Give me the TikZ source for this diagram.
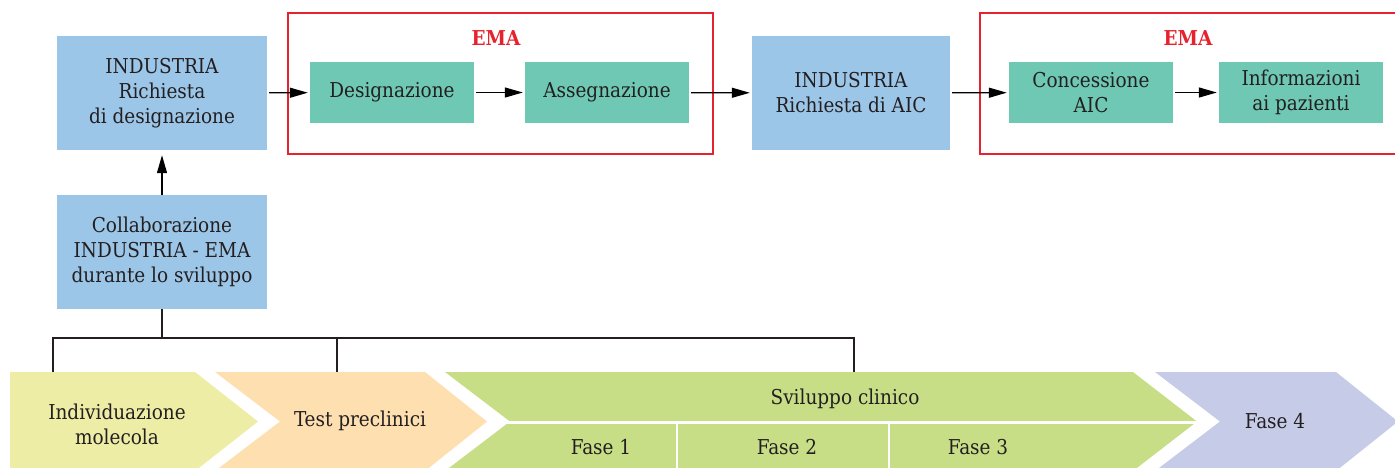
\documentclass[tikz,border=0pt]{standalone}
\usepackage{fontspec}
\setmainfont{DejaVu Serif Condensed}
\usetikzlibrary{arrows.meta}
\definecolor{inkc}{HTML}{231F20}
\definecolor{indblue}{HTML}{9CC6E8}
\definecolor{emagreen}{HTML}{6FC8B3}
\definecolor{emared}{HTML}{E6222E}
\definecolor{chyellow}{HTML}{EEEDA6}
\definecolor{chpeach}{HTML}{FDDFB0}
\definecolor{chgreen}{HTML}{C7DE87}
\definecolor{chlav}{HTML}{C6CBE7}
\begin{document}
\begin{tikzpicture}[x=1pt,y=-1pt,
  every node/.style={font=\fontsize{20.5}{25}\selectfont, text=inkc, align=center, inner sep=0pt},
  indbox/.style={fill=indblue, minimum height=114pt},
  emabox/.style={fill=emagreen, minimum width=164pt, minimum height=61pt},
  emaframe/.style={draw=emared, line width=2pt},
  emalabel/.style={font=\fontsize{20.5}{25}\selectfont\bfseries, text=emared},
  flow/.style={draw=black, -{Triangle[length=18pt,width=10pt]}, line width=1.3pt, shorten >=2pt, shorten <=2pt},
  tree/.style={draw=inkc, line width=1.3pt},
  divider/.style={draw=white, line width=2.5pt},
]
\useasboundingbox (0,0) rectangle (1395,467);
\clip (0,0) rectangle (1395,467);

% EMA frames
\draw[emaframe] (288,13) rectangle (713,154);
\draw[emaframe] (980,13) rectangle (1405,154);
\node[emalabel] (ema1) at (496,38) {EMA};
\node[emalabel] (ema2) at (1188,38) {EMA};

% industry boxes
\node[indbox, minimum width=210pt] (rich) at (162,93) {INDUSTRIA\\Richiesta\\di designazione};
\node[indbox, minimum width=198pt] (aic) at (851,93) {INDUSTRIA\\Richiesta di AIC};
\node[indbox, minimum width=210pt] (collab) at (162,252) {Collaborazione\\INDUSTRIA - EMA\\durante lo sviluppo};

% EMA steps
\node[emabox] (desig) at (392,92.5) {Designazione};
\node[emabox] (asseg) at (607,92.5) {Assegnazione};
\node[emabox] (conc) at (1091,92.5) {Concessione\\AIC};
\node[emabox] (info) at (1301,92.5) {Informazioni\\ai pazienti};

% flow arrows
\draw[flow] (rich) -- (desig);
\draw[flow] (desig) -- (asseg);
\draw[flow] (asseg) -- (aic);
\draw[flow] (aic) -- (conc);
\draw[flow] (conc) -- (info);
\draw[flow, shorten >=5pt, shorten <=0pt] (collab) -- (rich);

% development chevrons
\fill[chyellow] (10,372) -- (195,372) -- (258,421.5) -- (195,471) -- (10,471) -- cycle;
\fill[chpeach] (215,372) -- (425,372) -- (487,421.5) -- (425,471) -- (215,471) -- (280,421.5) -- cycle;
\fill[chgreen] (445,372) -- (1133,372) -- (1197,421.5) -- (1133,471) -- (445,471) -- (510,421.5) -- cycle;
\fill[chlav] (1155,372) -- (1336,372) -- (1398,421.5) -- (1336,471) -- (1155,471) -- (1220,421.5) -- cycle;
\draw[divider] (505,422.5) -- (1200,422.5);
\draw[divider] (677,422.5) -- (677,472);
\draw[divider] (889,422.5) -- (889,472);

\node (mol) at (117,424) {Individuazione\\molecola};
\node (pre) at (360,421) {Test preclinici};
\node (clin) at (845,399) {Sviluppo clinico};
\node (f1) at (601,447) {Fase 1};
\node (f2) at (787,447) {Fase 2};
\node (f3) at (978,447) {Fase 3};
\node (f4) at (1275,421) {Fase 4};

% links from the collaboration box to the phases
\coordinate (jn) at (162,338);
\coordinate (t1) at (53,372);
\coordinate (t2) at (337,372);
\coordinate (t3) at (854,372);
\draw[tree] (collab.south) -- (jn);
\draw[tree] (t1) |- (jn) -| (t3);
\draw[tree] (t2) -- (t2 |- jn);
\end{tikzpicture}
\end{document}
